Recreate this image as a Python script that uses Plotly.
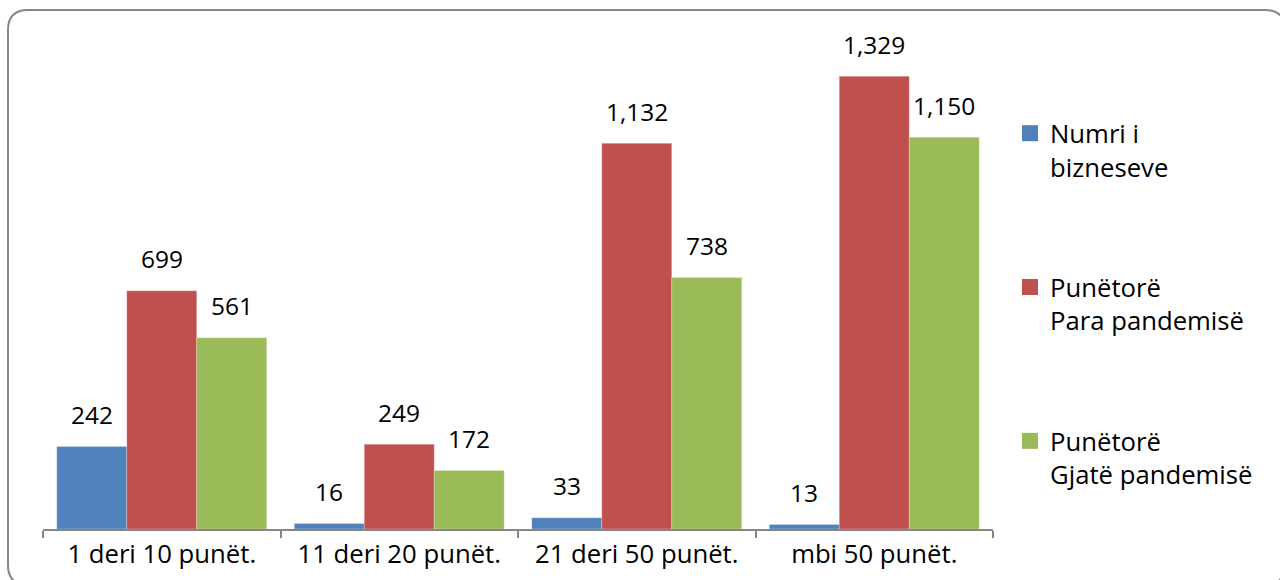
import plotly.graph_objects as go

categories = ["1 deri 10 punët.", "11 deri 20 punët.", "21 deri 50 punët.", "mbi 50 punët."]
series_names = ["Numri i<br>bizneseve", "Punëtorë<br>Para pandemisë", "Punëtorë<br>Gjatë pandemisë"]
numri_bizneseve = [242, 16, 33, 13]
para_pandemise = [699, 249, 1132, 1329]
gjate_pandemise = [561, 172, 738, 1150]
colors = ["#4F81BD", "#C0504D", "#9BBB59"]

series_values = [numri_bizneseve, para_pandemise, gjate_pandemise]

W, H = 1280, 580
ML, MR, MT, MB = 43, 287, 52, 51
BARGAP = 0.116
FONT = "Open Sans"
TXT = 25.7

fig = go.Figure()
for i, (name, vals) in enumerate(zip(series_names, series_values)):
    fig.add_trace(go.Bar(
        x=categories, y=vals, name=name,
        marker=dict(color=colors[i], line=dict(color="rgba(255,255,255,0.5)", width=0.5)),
        legendgroup=f"g{i}", hoverinfo="skip", showlegend=False,
    ))
    # legend entry with a larger square swatch
    fig.add_trace(go.Scatter(
        x=[None], y=[None], mode="markers", name=name,
        marker=dict(color=colors[i], symbol="square", size=16),
        legendgroup=f"g{i}", hoverinfo="skip", showlegend=True,
    ))

# data labels
nser = len(series_values)
bw = (1 - BARGAP) / nser
annotations = []
for i, vals in enumerate(series_values):
    off = (i - (nser - 1) / 2) * bw
    for j, v in enumerate(vals):
        annotations.append(dict(
            x=j + off, y=v, xref="x", yref="y", text=f"{v:,}",
            showarrow=False, yanchor="middle", yshift=32,
            font=dict(family=FONT, size=24.5, color="#000000"),
        ))

# rounded frame (pixel coordinates converted to paper)
pw = W - ML - MR
ph = H - MT - MB
def px(x):
    return (x - ML) / pw
def py(y):
    return (H - MB - y) / ph
L, T, R, B, r = 8, 10, 1285, 585, 20
path = (
    f"M {px(L + r)} {py(T)} L {px(R - r)} {py(T)} "
    f"Q {px(R)} {py(T)} {px(R)} {py(T + r)} "
    f"L {px(R)} {py(B - r)} Q {px(R)} {py(B)} {px(R - r)} {py(B)} "
    f"L {px(L + r)} {py(B)} Q {px(L)} {py(B)} {px(L)} {py(B - r)} "
    f"L {px(L)} {py(T + r)} Q {px(L)} {py(T)} {px(L + r)} {py(T)} Z"
)

fig.update_layout(
    width=W, height=H,
    margin=dict(l=ML, r=MR, t=MT, b=MB, autoexpand=False),
    paper_bgcolor="white", plot_bgcolor="white",
    barmode="group", bargap=BARGAP, bargroupgap=0,
    font=dict(family=FONT, size=TXT, color="#000000"),
    xaxis=dict(
        type="category", categoryarray=categories, categoryorder="array",
        showline=True, linecolor="#868686", linewidth=1.5,
        ticks="outside", tickson="boundaries", ticklen=7, tickcolor="#868686", tickwidth=1.5,
        showgrid=False, tickfont=dict(family=FONT, size=TXT, color="#000000"),
        ticklabelstandoff=1,
        fixedrange=True,
    ),
    yaxis=dict(visible=False, range=[0, 1400], showgrid=False, zeroline=False, fixedrange=True),
    legend=dict(
        x=px(1010), y=py(110), xanchor="left", yanchor="top",
        font=dict(family=FONT, size=TXT, color="#000000"),
        tracegroupgap=84, valign="top", bgcolor="rgba(0,0,0,0)",
        itemsizing="trace",
    ),
    annotations=annotations,
    shapes=[dict(type="path", path=path, xref="paper", yref="paper",
                 line=dict(color="#868686", width=2), layer="below")],
    showlegend=True,
    hovermode=False,
)

fig.write_html(
    "out.html",
    config={"displayModeBar": False},
    post_script="document.body.style.margin='0';document.body.style.overflow='hidden';",
)
